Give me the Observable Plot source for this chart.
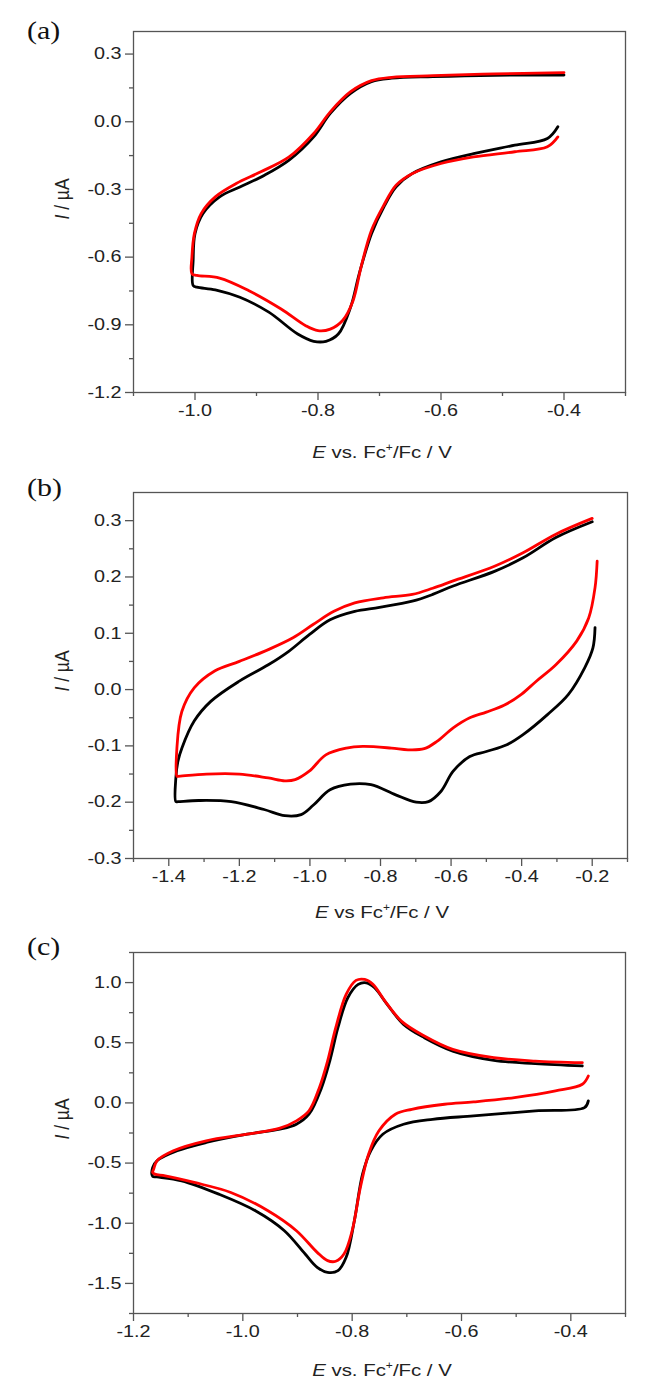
<!DOCTYPE html>
<html><head><meta charset="utf-8">
<script src="https://cdn.jsdelivr.net/npm/d3@7"></script>
<script src="https://cdn.jsdelivr.net/npm/@observablehq/plot@0.6"></script>
<style>
body{margin:0;background:#fff;}
#wrap{width:645px;}
.panel{position:relative;width:645px;}
.panel svg{display:block;}
.panel svg text{font-family:"Liberation Sans",Arial,sans-serif;font-size:16.5px;}
.lab{position:absolute;font-family:"Liberation Serif","Times New Roman",serif;font-size:26px;line-height:26px;color:#111;transform-origin:left top;transform:scaleX(1.15);}
.xt{position:absolute;font-family:"Liberation Sans",Arial,sans-serif;font-size:17px;line-height:17px;color:#222;white-space:nowrap;transform:translateX(-50%) scaleX(1.2);}
.yt{position:absolute;font-family:"Liberation Sans",Arial,sans-serif;font-size:17.5px;line-height:17px;color:#222;white-space:nowrap;transform:translate(-50%,-50%) rotate(-90deg) scaleY(1.2);}
sup{font-size:10px;line-height:0;vertical-align:7px;}
</style>
</head><body>
<div id="wrap"></div>
<script>
// ---------- Panel (a) ----------
const aBlackE = [-0.41,-0.427,-0.48,-0.547,-0.6,-0.647,-0.673,-0.693,-0.713,-0.733,-0.747,-0.767,-0.787,-0.807,-0.833,-0.88,-0.927,-0.967,-0.997,-1.003,-1.003,-1.0,-0.987,-0.96,-0.927,-0.887,-0.847,-0.807,-0.78,-0.747,-0.713,-0.68,-0.613,-0.513,-0.4];
const aBlackI = [-0.022,-0.074,-0.104,-0.141,-0.178,-0.23,-0.289,-0.378,-0.496,-0.674,-0.822,-0.941,-0.973,-0.973,-0.941,-0.844,-0.778,-0.745,-0.733,-0.726,-0.615,-0.496,-0.407,-0.333,-0.289,-0.237,-0.17,-0.067,0.037,0.126,0.178,0.193,0.2,0.206,0.207];
const aRedE = [-0.41,-0.427,-0.48,-0.547,-0.6,-0.647,-0.673,-0.693,-0.713,-0.73,-0.743,-0.76,-0.78,-0.8,-0.82,-0.86,-0.913,-0.96,-0.997,-1.005,-1.005,-1.001,-0.99,-0.967,-0.933,-0.893,-0.847,-0.807,-0.78,-0.747,-0.713,-0.68,-0.613,-0.513,-0.4];
const aRedI = [-0.067,-0.111,-0.133,-0.156,-0.185,-0.23,-0.281,-0.37,-0.481,-0.644,-0.793,-0.881,-0.919,-0.926,-0.904,-0.83,-0.748,-0.693,-0.681,-0.674,-0.6,-0.496,-0.407,-0.333,-0.274,-0.222,-0.156,-0.052,0.044,0.133,0.182,0.197,0.204,0.212,0.218];
const aXTicks = [-1.0,-0.8,-0.6,-0.4];
const aXMinor = [-1.1,-0.9,-0.7,-0.5,-0.3];
const aYTicks = [-1.2,-0.9,-0.6,-0.3,0.0,0.3];
const aYMinor = [-1.05,-0.75,-0.45,-0.15,0.15];

// ---------- Panel (b) ----------
const bBlackE = [-0.192,-0.198,-0.221,-0.268,-0.326,-0.396,-0.442,-0.5,-0.547,-0.594,-0.629,-0.664,-0.699,-0.757,-0.827,-0.885,-0.943,-0.99,-1.025,-1.071,-1.13,-1.223,-1.316,-1.374,-1.38,-1.38,-1.374,-1.363,-1.328,-1.281,-1.2,-1.118,-1.06,-1.001,-0.943,-0.873,-0.803,-0.71,-0.652,-0.594,-0.477,-0.396,-0.303,-0.2];
const bBlackI = [0.110,0.074,0.039,-0.009,-0.044,-0.080,-0.098,-0.110,-0.119,-0.145,-0.181,-0.199,-0.200,-0.187,-0.169,-0.168,-0.178,-0.205,-0.222,-0.224,-0.213,-0.199,-0.197,-0.199,-0.199,-0.157,-0.127,-0.104,-0.056,-0.021,0.015,0.044,0.068,0.098,0.124,0.139,0.146,0.157,0.169,0.184,0.210,0.234,0.270,0.298];
const bRedE = [-0.186,-0.192,-0.21,-0.244,-0.303,-0.36,-0.40,-0.45,-0.5,-0.547,-0.594,-0.64,-0.676,-0.722,-0.769,-0.85,-0.897,-0.955,-1.002,-1.042,-1.071,-1.118,-1.2,-1.293,-1.374,-1.377,-1.377,-1.363,-1.328,-1.27,-1.2,-1.118,-1.048,-0.99,-0.932,-0.873,-0.792,-0.71,-0.652,-0.594,-0.477,-0.396,-0.303,-0.2];
const bRedI = [0.228,0.181,0.127,0.086,0.044,0.014,-0.008,-0.028,-0.040,-0.050,-0.068,-0.092,-0.105,-0.107,-0.104,-0.101,-0.104,-0.116,-0.145,-0.160,-0.162,-0.157,-0.150,-0.150,-0.154,-0.154,-0.104,-0.039,0.003,0.033,0.050,0.071,0.092,0.116,0.139,0.154,0.163,0.169,0.180,0.193,0.219,0.243,0.276,0.304];
const bXTicks = [-1.4,-1.2,-1.0,-0.8,-0.6,-0.4,-0.2];
const bXMinor = [-1.5,-1.3,-1.1,-0.9,-0.7,-0.5,-0.3,-0.1];
const bYTicks = [-0.3,-0.2,-0.1,0.0,0.1,0.2,0.3];
const bYMinor = [-0.25,-0.15,-0.05,0.05,0.15,0.25];

// ---------- Panel (c) ----------
const cBlackE = [-0.368,-0.375,-0.465,-0.578,-0.653,-0.706,-0.744,-0.766,-0.781,-0.796,-0.811,-0.826,-0.845,-0.864,-0.886,-0.924,-0.977,-1.044,-1.112,-1.157,-1.165,-1.165,-1.157,-1.12,-1.067,-0.992,-0.932,-0.902,-0.879,-0.856,-0.841,-0.826,-0.808,-0.789,-0.774,-0.759,-0.736,-0.706,-0.668,-0.616,-0.541,-0.465,-0.379];
const cBlackI = [0.017,-0.039,-0.066,-0.108,-0.136,-0.177,-0.26,-0.398,-0.592,-0.979,-1.283,-1.394,-1.408,-1.366,-1.256,-1.062,-0.896,-0.758,-0.647,-0.615,-0.61,-0.537,-0.481,-0.398,-0.329,-0.26,-0.218,-0.177,-0.094,0.127,0.348,0.625,0.874,0.985,0.998,0.957,0.819,0.653,0.542,0.431,0.354,0.326,0.307];
const cRedE = [-0.368,-0.379,-0.428,-0.503,-0.578,-0.631,-0.691,-0.721,-0.751,-0.770,-0.785,-0.8,-0.815,-0.83,-0.845,-0.864,-0.902,-0.954,-1.022,-1.089,-1.142,-1.161,-1.165,-1.163,-1.157,-1.127,-1.067,-0.992,-0.932,-0.902,-0.879,-0.860,-0.845,-0.830,-0.811,-0.793,-0.777,-0.762,-0.740,-0.710,-0.668,-0.616,-0.541,-0.465,-0.379];
const cRedI = [0.224,0.155,0.1,0.044,0.008,-0.011,-0.053,-0.094,-0.232,-0.426,-0.702,-1.062,-1.256,-1.316,-1.311,-1.242,-1.062,-0.896,-0.744,-0.661,-0.606,-0.592,-0.578,-0.55,-0.481,-0.398,-0.315,-0.26,-0.21,-0.149,-0.066,0.127,0.348,0.625,0.902,1.018,1.026,0.985,0.846,0.680,0.556,0.445,0.376,0.348,0.335];
const cXTicks = [-1.2,-1.0,-0.8,-0.6,-0.4];
const cXMinor = [-1.1,-0.9,-0.7,-0.5,-0.3];
const cYTicks = [-1.5,-1.0,-0.5,0.0,0.5,1.0];
const cYMinor = [-1.75,-1.25,-0.75,-0.25,0.25,0.75,1.25];

const zip = (E, I) => E.map((e, i) => ({E: e, I: I[i]}));
const fmt = d => d.toFixed(1);
const axisStyle = {stroke: "#555", strokeWidth: 1.3, fill: "#222", fontSize: 16.5, label: null};

function cv(o) {
  const svg = Plot.plot({
    width: 645, height: o.height,
    marginLeft: 133, marginRight: o.mr, marginTop: o.mt, marginBottom: o.mb,
    x: {domain: o.xDomain},
    y: {domain: o.yDomain},
    style: {fontFamily: "'Liberation Sans', Arial, sans-serif", fontSize: "16.5px", color: "#222", background: "#fff"},
    marks: [
      Plot.line(zip(o.bE, o.bI), {x: "E", y: "I", stroke: "#000", strokeWidth: 2.8, curve: "catmull-rom"}),
      Plot.line(zip(o.rE, o.rI), {x: "E", y: "I", stroke: "#f00", strokeWidth: 2.8, curve: "catmull-rom"}),
      Plot.frame({stroke: "#555", strokeWidth: 1.3}),
      Plot.axisX(o.xTicks, {...axisStyle, tickSize: 8, tickPadding: 4, tickFormat: fmt}),
      Plot.axisX(o.xMinor, {...axisStyle, tickSize: 4, tickFormat: () => ""}),
      Plot.axisY(o.yTicks, {...axisStyle, tickSize: 8, tickPadding: 4, tickFormat: fmt}),
      Plot.axisY(o.yMinor, {...axisStyle, tickSize: 4, tickFormat: () => ""})
    ]
  });
  // widen tick labels horizontally about their anchor x (the original figure is stretched sideways)
  svg.querySelectorAll("text").forEach(t => {
    let x = parseFloat(t.getAttribute("x"));
    if (!isFinite(x)) x = 0;
    const tr = t.getAttribute("transform") || "";
    t.setAttribute("transform", `${tr} translate(${x} 0) scale(1.2 1) translate(${-x} 0)`.trim());
  });
  return svg;
}

const panels = [
  {name: "(a)", height: 460, mt: 31, mb: 68, mr: 20, xDomain: [-1.1, -0.3], yDomain: [-1.2, 0.4],
   bE: aBlackE, bI: aBlackI, rE: aRedE, rI: aRedI, xTicks: aXTicks, xMinor: aXMinor, yTicks: aYTicks, yMinor: aYMinor,
   labTop: 18, yTitleTop: 199, xTitle: "<i>E</i> vs. Fc<sup>+</sup>/Fc / V", xTitleTop: 443.6},
  {name: "(b)", height: 460, mt: 32, mb: 62, mr: 18, xDomain: [-1.5, -0.1], yDomain: [-0.3, 0.35],
   bE: bBlackE, bI: bBlackI, rE: bRedE, rI: bRedI, xTicks: bXTicks, xMinor: bXMinor, yTicks: bYTicks, yMinor: bYMinor,
   labTop: 15, yTitleTop: 211, xTitle: "<i>E</i> vs Fc<sup>+</sup>/Fc / V", xTitleTop: 443.6},
  {name: "(c)", height: 478, mt: 32, mb: 85, mr: 20, xDomain: [-1.2, -0.3], yDomain: [-1.75, 1.25],
   bE: cBlackE, bI: cBlackI, rE: cRedE, rI: cRedI, xTicks: cXTicks, xMinor: cXMinor, yTicks: cYTicks, yMinor: cYMinor,
   labTop: 14, yTitleTop: 199, xTitle: "<i>E</i> vs. Fc<sup>+</sup>/Fc / V", xTitleTop: 441.6}
];

const wrap = document.getElementById("wrap");
for (const p of panels) {
  const div = document.createElement("div");
  div.className = "panel";
  div.style.height = p.height + "px";
  div.appendChild(cv(p));
  const lab = document.createElement("div");
  lab.className = "lab"; lab.style.left = "27px"; lab.style.top = p.labTop + "px"; lab.textContent = p.name;
  div.appendChild(lab);
  const yt = document.createElement("div");
  yt.className = "yt"; yt.style.left = "62px"; yt.style.top = p.yTitleTop + "px"; yt.innerHTML = "<i>I</i> / µA";
  div.appendChild(yt);
  const xt = document.createElement("div");
  xt.className = "xt"; xt.style.left = "382px"; xt.style.top = p.xTitleTop + "px"; xt.innerHTML = p.xTitle;
  div.appendChild(xt);
  wrap.appendChild(div);
}
</script>
</body></html>
